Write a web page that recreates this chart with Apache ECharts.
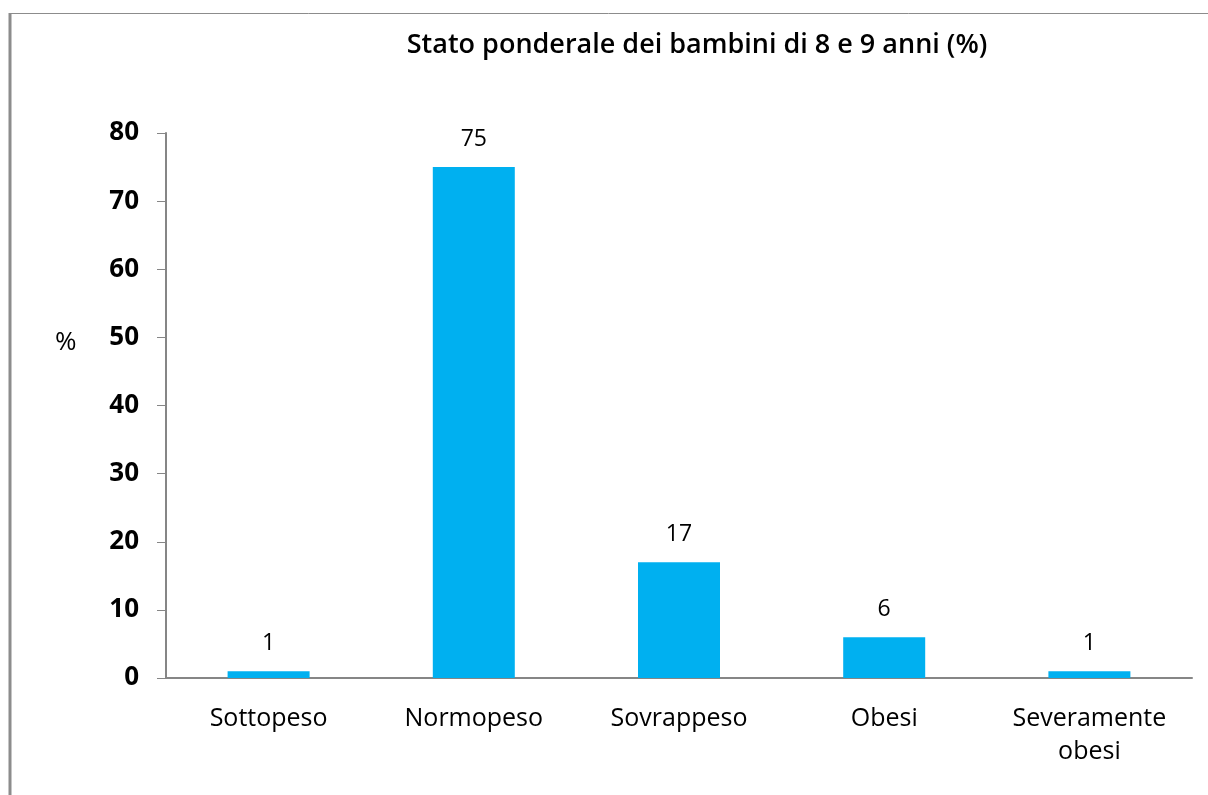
<!DOCTYPE html>
<html>
<head>
<meta charset="utf-8">
<script src="https://cdn.jsdelivr.net/npm/echarts@6/dist/echarts.min.js"></script>
<style>
    html, body { margin: 0; padding: 0; background: #fff; }
    #main { width: 1208px; height: 795px; }
</style>
</head>
<body>
<div id="main"></div>
<script>
var categories = ['Sottopeso', 'Normopeso', 'Sovrappeso', 'Obesi', 'Severamente\nobesi'];
var values = [1, 75, 17, 6, 1];
var chartTitle = 'Stato ponderale dei bambini di 8 e 9 anni (%)';
var yName = '%';

var fontFamily = '"Open Sans", Lato, sans-serif';
var axisGrey = '#868686';

var chart = echarts.init(document.getElementById('main'), null, {renderer: 'canvas'});

chart.setOption({
    backgroundColor: '#fff',
    animation: false,
    title: {
        text: chartTitle,
        left: 692,
        top: 27,
        textAlign: 'center',
        textStyle: {
            fontFamily: fontFamily,
            fontSize: 27,
            fontWeight: 600,
            color: '#000'
        }
    },
    grid: {
        left: 166,
        right: 16,
        top: 133,
        bottom: 117
    },
    xAxis: {
        type: 'category',
        data: categories,
        axisLine: {lineStyle: {color: axisGrey, width: 2}},
        axisTick: {length: 10, lineStyle: {color: axisGrey, width: 2}},
        axisLabel: {
            margin: 24,
            fontFamily: fontFamily,
            fontSize: 25,
            fontWeight: 500,
            lineHeight: 33,
            color: '#000',
            interval: 0
        }
    },
    yAxis: {
        type: 'value',
        min: 0,
        max: 80,
        interval: 10,
        axisLine: {show: true, lineStyle: {color: axisGrey, width: 2}},
        axisTick: {show: true, length: 9, lineStyle: {color: axisGrey, width: 1}},
        splitLine: {show: false},
        axisLabel: {
            margin: 27,
            fontFamily: fontFamily,
            fontSize: 26,
            fontWeight: 'bold',
            color: '#000'
        }
    },
    series: [{
        type: 'bar',
        data: values,
        barWidth: 82,
        itemStyle: {color: '#00B0F0'},
        label: {
            show: true,
            position: 'top',
            distance: 16,
            fontFamily: fontFamily,
            fontSize: 23,
            color: '#000'
        }
    }],
    graphic: [
        {
            type: 'line',
            shape: {x1: 10, y1: 13, x2: 10, y2: 795},
            style: {stroke: '#8c8c8c', lineWidth: 3}
        },
        {
            type: 'line',
            shape: {x1: 9, y1: 13.5, x2: 1208, y2: 13.5},
            style: {stroke: '#8c8c8c', lineWidth: 1}
        },
        {
            type: 'text',
            left: 55,
            top: 330,
            style: {
                text: yName,
                font: '26px "Open Sans", sans-serif',
                fill: '#000'
            }
        }
    ]
});
</script>
</body>
</html>
